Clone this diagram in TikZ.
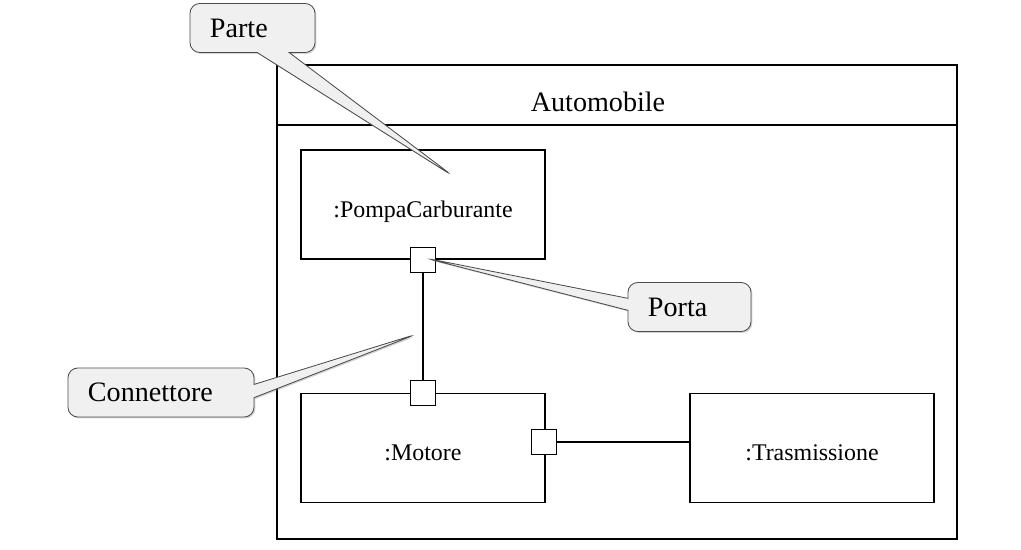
\documentclass[tikz,border=0pt]{standalone}
\usepackage{fontspec}
\setmainfont{Liberation Serif}
\usetikzlibrary{shapes.callouts,shadows}
\newcommand{\partfont}{\fontsize{17}{20}\selectfont}
\newcommand{\notefont}{\fontsize{20}{24}\selectfont}
\newcommand{\mkport}[2]{% #1: name, #2: position
	\node[port] (#1) at (#2) {};
}
\tikzset{
	part/.style={draw,line width=0.9pt,minimum width=6.1cm,minimum height=2.725cm,font=\partfont,text height=18pt,text depth=0pt},
	port/.style={draw,fill=white,line width=0.9pt,minimum size=0.625cm,inner sep=0pt},
	note/.style={rectangle callout,rounded corners=7pt,draw=gray!60!black,fill=gray!12,line width=0.6pt,
		drop shadow={opacity=0.35,shadow xshift=1pt,shadow yshift=-1pt},
		font=\notefont,align=left,inner xsep=0.5cm,minimum height=1.225cm}
}

\begin{document}
\begin{tikzpicture}[x=0.025cm,y=-0.025cm]
	\useasboundingbox (0,0) rectangle (1021,549);
	
	% Draw the frame
	\node[draw,line width=0.9pt,minimum width=17cm,minimum height=11.85cm] (auto) at (617,302) {};
	\coordinate (hdr) at (617,125);
	\draw[line width=0.9pt] (auto.west |- hdr) -- (auto.east |- hdr);
	\node[font=\notefont] (title) at (598,102) {Automobile};
	
	% Parts
	\node[part] (pompa) at (423,204.5) {:PompaCarburante};
	\node[part] (motore) at (423,448) {:Motore};
	\node[part] (trasm) at (812,448) {:Trasmissione};
	
	% Connectors
	\draw[line width=0.9pt] (pompa.south) -- (motore.north);
	\draw[line width=0.9pt] (544,442) -- (trasm.west |- 0,442);
	
	% Ports
	\mkport{pp}{pompa.south}
	\mkport{pm}{motore.north}
	\mkport{pmr}{544,442}
	
	% Notes
	\coordinate (tipParte) at (453,176);
	\coordinate (tipPorta) at (425,258);
	\coordinate (tipConn) at (417,334);
	\node[note,text width=2.125cm,callout pointer width=0.8cm,callout absolute pointer={(tipParte)}] (parte) at (252.5,28) {Parte};
	\node[note,text width=2.075cm,callout pointer width=0.3cm,callout absolute pointer={(tipPorta)}] (porta) at (689.5,307) {Porta};
	\node[note,text width=3.65cm,callout pointer width=0.33cm,callout absolute pointer={(tipConn)}] (conn) at (161,392.5) {Connettore};
\end{tikzpicture}
\end{document}
